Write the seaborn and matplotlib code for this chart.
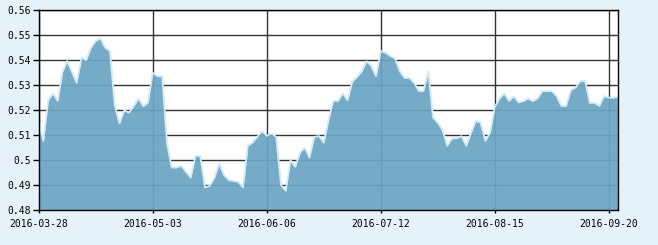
import matplotlib
matplotlib.use("Agg")
import matplotlib.pyplot as plt
import seaborn as sns
import pandas as pd

# ---- data ----
nav_values = [
    0.5147, 0.5077, 0.5240, 0.5267, 0.5237, 0.5353, 0.5397, 0.5353, 0.5310, 0.5410,
    0.5400, 0.5450, 0.5477, 0.5487, 0.5450, 0.5437, 0.5220, 0.5147, 0.5200, 0.5190,
    0.5216, 0.5247, 0.5216, 0.5230, 0.5350, 0.5336, 0.5336, 0.5067, 0.4970, 0.4970,
    0.4977, 0.4953, 0.4930, 0.5017, 0.5017, 0.4890, 0.4897, 0.4930, 0.4987, 0.4940,
    0.4920, 0.4916, 0.4913, 0.4890, 0.5057, 0.5070, 0.5093, 0.5116, 0.5097, 0.5107,
    0.5093, 0.4900, 0.4877, 0.5000, 0.4973, 0.5030, 0.5050, 0.5010, 0.5093, 0.5096,
    0.5070, 0.5160, 0.5237, 0.5237, 0.5267, 0.5240, 0.5313, 0.5333, 0.5356, 0.5396,
    0.5377, 0.5336, 0.5437, 0.5430, 0.5417, 0.5407, 0.5356, 0.5329, 0.5329, 0.5310,
    0.5277, 0.5277, 0.5357, 0.5170, 0.5150, 0.5120, 0.5057, 0.5087, 0.5087, 0.5096,
    0.5057, 0.5109, 0.5157, 0.5150, 0.5077, 0.5109, 0.5213, 0.5247, 0.5267, 0.5237,
    0.5256, 0.5231, 0.5236, 0.5247, 0.5236, 0.5247, 0.5276, 0.5276, 0.5276, 0.5257,
    0.5217, 0.5217, 0.5280, 0.5291, 0.5317, 0.5317, 0.5229, 0.5229, 0.5217, 0.5256,
    0.5250, 0.5250, 0.5253,
]
x_tick_labels = ["2016-03-28", "2016-05-03", "2016-06-06", "2016-07-12", "2016-08-15", "2016-09-20"]
y_ticks = [0.48, 0.49, 0.50, 0.51, 0.52, 0.53, 0.54, 0.55, 0.56]
y_tick_labels = ["0.48", "0.49", "0.5", "0.51", "0.52", "0.53", "0.54", "0.55", "0.56"]
tick_step = 24  # trading days between labelled dates

df = pd.DataFrame({"idx": range(len(nav_values)), "nav": nav_values})

sns.set_theme(style="white")
plt.rcParams["font.family"] = ["DejaVu Sans Mono"]

bg = "#e6f2fa"
fig = plt.figure(figsize=(6.58, 2.45), dpi=100, facecolor=bg)
ax = fig.add_axes([0.0588, 0.1429, 0.8809, 0.8151])
ax.set_facecolor("white")

ax.fill_between(df["idx"], 0.48, df["nav"], color="#6ca5c3", alpha=0.93, lw=0, zorder=2)
sns.lineplot(data=df, x="idx", y="nav", ax=ax, color="#d4eaf6", lw=1.3, zorder=3)

ax.set_xlim(0, len(nav_values) - 1)
ax.set_ylim(0.48, 0.56)
ax.set_xticks(list(range(0, tick_step * len(x_tick_labels), tick_step)))
ax.set_xticklabels(x_tick_labels)
ax.set_yticks(y_ticks)
ax.set_yticklabels(y_tick_labels)
ax.set_xlabel("")
ax.set_ylabel("")

ax.set_axisbelow(True)
ax.grid(True, color="#333333", lw=1.0)
for s in ax.spines.values():
    s.set_visible(True)
    s.set_color("black")
    s.set_linewidth(1.0)
    s.set_zorder(5)

ax.tick_params(axis="x", direction="out", length=2.5, width=1, color="black",
               pad=4.0, labelsize=7, labelcolor="black", bottom=True)
ax.tick_params(axis="y", direction="out", length=4.5, width=1, color="black",
               pad=0.8, labelsize=7, labelcolor="black", left=True)

fig.savefig("out.png", dpi=100, facecolor=bg)
